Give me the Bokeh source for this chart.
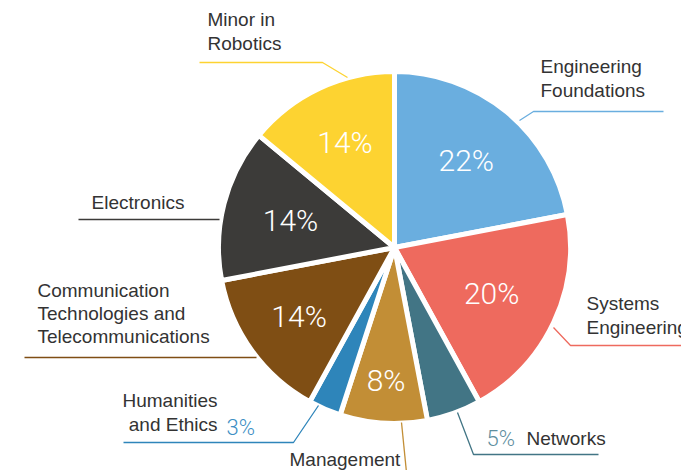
import math
from bokeh.plotting import figure
from bokeh.models import Range1d
from bokeh.core.properties import value
from bokeh.embed import file_html
from bokeh.resources import INLINE

categories = ["Engineering Foundations", "Systems Engineering", "Networks", "Management",
              "Humanities and Ethics", "Communication Technologies and Telecommunications",
              "Electronics", "Minor in Robotics"]
shares = [22, 20, 5, 8, 3, 14, 14, 14]
colors = ["#6AAEDF", "#EE6A5E", "#427585", "#C28E36", "#2E85BA", "#7F4E14", "#3C3B39", "#FDD331"]

W, H = 681, 470
p = figure(width=W, height=H, x_range=Range1d(0, W), y_range=Range1d(0, H),
           output_backend="svg", toolbar_location=None, min_border=0)
p.axis.visible = False
p.grid.visible = False
p.outline_line_color = None
p.background_fill_color = "white"


def X(x):
    return x


def Y(y):
    return H - y


CX, CY, R = 394, 247, 176

starts, ends = [], []
cum = 0
for s in shares:
    a0 = cum / 100
    cum += s
    a1 = cum / 100
    starts.append(math.pi / 2 - 2 * math.pi * a1)
    ends.append(math.pi / 2 - 2 * math.pi * a0)

p.wedge(x=[X(CX)] * len(shares), y=[Y(CY)] * len(shares), radius=R,
        start_angle=starts, end_angle=ends, fill_color=colors,
        line_color="white", line_width=5)

# inner percentage labels
label_r = [0.64, 0.61, None, 0.76, None, 0.67, 0.61, 0.66]
px, py, pt = [], [], []
cum = 0
for s, lr in zip(shares, label_r):
    mid = (cum + s / 2) / 100
    cum += s
    if lr is None:
        continue
    ang = math.pi / 2 - 2 * math.pi * mid
    px.append(X(CX) + lr * R * math.cos(ang))
    py.append(Y(CY) + lr * R * math.sin(ang))
    pt.append(f"{s}%")
p.text(x=px, y=py, text=pt, text_color="white", text_font=value("Roboto Light"),
       text_font_size="30px", text_align="center", text_baseline="middle")

# leader lines (image pixel coordinates)
leaders = [
    ([519, 533, 663], [120, 111, 111], colors[0]),
    ([553, 570, 681], [327, 345, 345], colors[1]),
    ([457, 473, 598], [412, 454, 454], colors[2]),
    ([401, 406], [422, 472], colors[3]),
    ([318, 293, 123], [405, 442, 442], colors[4]),
    ([256, 24], [357, 357], colors[5]),
    ([219, 78], [219, 219], colors[6]),
    ([347, 322, 199], [77, 62, 62], colors[7]),
]
for xs, ys, c in leaders:
    p.line(x=[X(v) for v in xs], y=[Y(v) for v in ys], line_color=c, line_width=1.3)

font = value("Liberation Sans")
dark = "#333333"
p.text(x=[X(v) for v in [540, 586, 37, 91, 207, 526, 289]],
       y=[Y(v) for v in [78, 315, 313, 202, 31, 438, 459]],
       text=["Engineering\nFoundations", "Systems\nEngineering",
             "Communication\nTechnologies and\nTelecommunications", "Electronics",
             "Minor in\nRobotics", "Networks", "Management"],
       text_color=dark, text_font=font, text_font_size="19px", text_line_height=1.1,
       text_align="left", text_baseline="middle")
p.text(x=[X(217)], y=[Y(412)], text=["Humanities\nand Ethics"], text_color=dark,
       text_font=font, text_font_size="19px", text_line_height=1.1,
       text_align="right", text_baseline="middle")
p.text(x=[X(486)], y=[Y(438)], text=[f"{shares[2]}%"], text_color="#5E8E9E",
       text_font=value("Roboto Light"), text_font_size="22px",
       text_align="left", text_baseline="middle")
p.text(x=[X(226)], y=[Y(427)], text=[f"{shares[4]}%"], text_color="#3D8FC4",
       text_font=value("Roboto Light"), text_font_size="22px",
       text_align="left", text_baseline="middle")

open("out.html", "w").write(file_html(p, INLINE))
